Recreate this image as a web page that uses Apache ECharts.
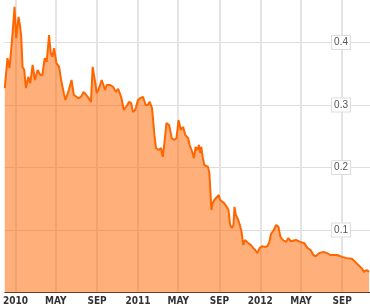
<!DOCTYPE html>
<html>
<head>
<meta charset="utf-8">
<script src="https://cdn.jsdelivr.net/npm/echarts@6/dist/echarts.min.js"></script>
<style>
html,body{margin:0;padding:0;background:#fff;overflow:hidden;}
#chart{width:370px;height:327px;margin-top:-20px;}
</style>
</head>
<body>
<div id="chart"></div>
<script>
const dates = [
'2009-11-30','2009-12-08','2009-12-14','2009-12-19','2009-12-24','2009-12-29',
'2010-01-03','2010-01-10','2010-01-15','2010-01-18','2010-01-22','2010-01-27',
'2010-02-01','2010-02-08','2010-02-14','2010-02-21','2010-02-28','2010-03-08',
'2010-03-16','2010-03-22','2010-03-29','2010-04-04','2010-04-11','2010-04-16',
'2010-04-21','2010-04-26','2010-05-03','2010-05-11','2010-05-17','2010-05-25',
'2010-05-30','2010-06-04','2010-06-09','2010-06-17','2010-06-24','2010-07-02',
'2010-07-08','2010-07-15','2010-07-23','2010-07-31','2010-08-07','2010-08-14',
'2010-08-19','2010-08-27','2010-08-31','2010-09-05','2010-09-15','2010-09-25',
'2010-09-30','2010-10-10','2010-10-19','2010-10-27','2010-11-03','2010-11-13',
'2010-11-20','2010-11-28','2010-12-06','2010-12-12','2010-12-17','2010-12-24',
'2011-01-01','2011-01-08','2011-01-16','2011-01-24','2011-01-30','2011-02-05',
'2011-02-12','2011-02-17','2011-02-20','2011-02-24','2011-03-04','2011-03-11',
'2011-03-16','2011-03-21','2011-03-27','2011-04-04','2011-04-12','2011-04-19',
'2011-04-26','2011-05-02','2011-05-09','2011-05-16','2011-05-22','2011-05-25',
'2011-05-31','2011-06-04','2011-06-12','2011-06-17','2011-06-22','2011-06-27',
'2011-07-02','2011-07-06','2011-07-09','2011-07-13','2011-07-18','2011-07-23',
'2011-07-29','2011-08-02','2011-08-05','2011-08-08','2011-08-12','2011-08-17',
'2011-08-22','2011-08-30','2011-09-03','2011-09-08','2011-09-15','2011-09-23',
'2011-09-28','2011-10-03','2011-10-08','2011-10-13','2011-10-16','2011-10-20',
'2011-10-27','2011-11-01','2011-11-06','2011-11-11','2011-11-16','2011-11-21',
'2011-11-26','2011-12-04','2011-12-11','2011-12-17','2011-12-23','2011-12-30',
'2012-01-06','2012-01-14','2012-01-22','2012-01-28','2012-02-02','2012-02-10',
'2012-02-17','2012-02-24','2012-03-01','2012-03-08','2012-03-18','2012-03-24',
'2012-04-01','2012-04-16','2012-04-29','2012-05-11','2012-05-21','2012-05-30',
'2012-06-07','2012-06-14','2012-06-24','2012-07-08','2012-07-18','2012-07-28',
'2012-08-17','2012-09-01','2012-09-15','2012-09-30','2012-10-10','2012-10-19',
'2012-10-29','2012-11-05','2012-11-13','2012-11-20'
];
const values = [
0.327,0.375,0.359,0.388,0.420,0.457,
0.407,0.441,0.425,0.409,0.361,0.356,
0.327,0.345,0.335,0.364,0.340,0.356,
0.348,0.348,0.375,0.369,0.412,0.383,
0.377,0.391,0.367,0.361,0.340,0.319,
0.308,0.316,0.324,0.340,0.316,0.313,
0.311,0.313,0.321,0.316,0.311,0.305,
0.361,0.335,0.319,0.324,0.340,0.324,
0.332,0.332,0.329,0.321,0.326,0.311,
0.292,0.298,0.305,0.303,0.289,0.292,
0.308,0.311,0.313,0.300,0.300,0.305,
0.295,0.292,0.248,0.231,0.228,0.231,
0.217,0.239,0.271,0.268,0.247,0.244,
0.247,0.276,0.260,0.265,0.252,0.249,
0.247,0.236,0.225,0.215,0.233,0.228,
0.236,0.223,0.233,0.217,0.204,0.207,
0.201,0.191,0.164,0.132,0.143,0.148,
0.145,0.156,0.148,0.151,0.143,0.137,
0.132,0.108,0.103,0.108,0.137,0.124,
0.116,0.108,0.097,0.076,0.084,0.087,
0.079,0.076,0.071,0.068,0.063,0.071,
0.074,0.073,0.074,0.081,0.094,0.100,
0.108,0.105,0.089,0.084,0.081,0.087,
0.082,0.084,0.081,0.079,0.071,0.068,
0.060,0.058,0.063,0.065,0.063,0.060,
0.060,0.057,0.055,0.054,0.049,0.044,
0.039,0.033,0.036,0.033
];
const tickDates = ['2010-01-01','2010-05-01','2010-09-01','2011-01-01','2011-05-01','2011-09-01','2012-01-01','2012-05-01','2012-09-01'];
const tickLabels = ['2010','MAY','SEP','2011','MAY','SEP','2012','MAY','SEP'];
const yTicks = [0.1, 0.2, 0.3, 0.4];
const xStart = '2009-11-30';
const xEnd = '2012-11-23';

function toTime(s){ const p = s.split('-').map(Number); return new Date(p[0], p[1]-1, p[2]).getTime(); }
const tickTimes = tickDates.map(toTime);

const chart = echarts.init(document.getElementById('chart'), null, {renderer:'canvas'});
chart.setOption({
  animation: false,
  backgroundColor: '#ffffff',
  grid: {left: 0, right: 0, top: 0, bottom: 14.5, containLabel: false},
  xAxis: {
    type: 'value',
    min: toTime(xStart),
    max: toTime(xEnd),
    axisLine: {show: true, onZero: false, lineStyle: {color: '#333', width: 1}},
    axisTick: {show: false, customValues: tickTimes},
    splitLine: {show: true, lineStyle: {color: '#e4e4e4', width: 2}},
    axisLabel: {
      customValues: tickTimes,
      margin: 4,
      color: '#333',
      fontSize: 10,
      fontWeight: 'bold',
      fontFamily: '"Liberation Sans Narrow", "DejaVu Sans Condensed", Arial, sans-serif',
      formatter: function (v) {
        let best = -1, bd = Infinity;
        tickTimes.forEach(function (t, i) { const d = Math.abs(t - v); if (d < bd) { bd = d; best = i; } });
        return bd < 86400000 * 2 ? tickLabels[best] : '';
      }
    }
  },
  yAxis: {
    type: 'value',
    position: 'right',
    min: 0,
    max: 0.5,
    interval: 0.1,
    axisLine: {show: false},
    axisTick: {show: false},
    splitLine: {show: true, lineStyle: {color: '#dddddd', width: 1}},
    axisLabel: {
      inside: true,
      margin: 20,
      showMinLabel: false,
      showMaxLabel: false,
      color: '#555',
      fontSize: 10,
      fontFamily: 'Arial, "Liberation Sans", sans-serif',
      backgroundColor: '#ffffff',
      borderColor: '#dddddd',
      borderWidth: 1,
      padding: [2, 2, 1, 2],
      formatter: function (v) {
        for (const t of yTicks) { if (Math.abs(t - v) < 1e-6) return String(t); }
        return '';
      }
    }
  },
  series: [{
    type: 'line',
    data: dates.map(function (d, i) { return [toTime(d), values[i]]; }),
    showSymbol: false,
    symbol: 'none',
    lineStyle: {color: '#ff6600', width: 2},
    areaStyle: {color: '#ff6600', opacity: 0.52},
    z: 2
  }]
});
</script>
</body>
</html>
